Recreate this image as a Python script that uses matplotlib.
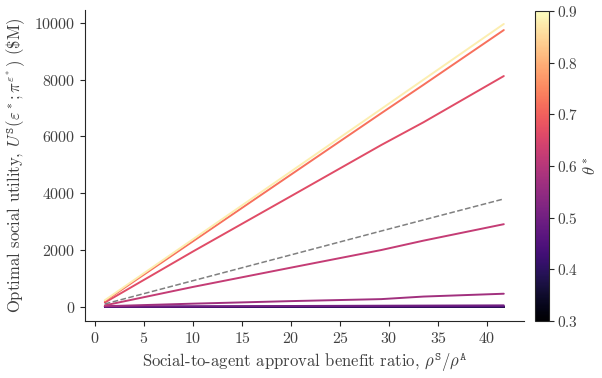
import numpy as np
import matplotlib
matplotlib.use("Agg")
import matplotlib.pyplot as plt
import seaborn as sns

sns.set_style("ticks")
plt.rcParams["font.family"] = "serif"
plt.rcParams["font.serif"] = ["cmr10"]
plt.rcParams["mathtext.fontset"] = "cm"
plt.rcParams["axes.formatter.use_mathtext"] = True
plt.rcParams["axes.unicode_minus"] = False

# benefit ratio rho^S / rho^A
ratio = [1, 10, 20, 29.2, 33.5, 41.7]

# optimal theta for each curve and the social utility ($M)
thetas = [0.3, 0.35, 0.4, 0.45, 0.5, 0.57, 0.62, 0.665, 0.72, 0.88]
utility = [
    [0, 0, 0, 0, 0, 0],
    [0, 0, 0, 0, 0, 0],
    [0, 1, 2, 3, 3, 4],
    [1, 4, 8, 12, 14, 18],
    [5, 15, 28, 38, 42, 50],
    [20, 110, 200, 270, 360, 460],
    [50, 700, 1380, 2000, 2330, 2910],
    [150, 1950, 3900, 5700, 6500, 8130],
    [200, 2310, 4660, 6820, 7820, 9750],
    [230, 2380, 4770, 6970, 8000, 9965],
]

# reference line (dashed)
ref_line = [100, 920, 1830, 2670, 3060, 3800]

cmap = plt.get_cmap("magma")
norm = matplotlib.colors.Normalize(vmin=0.3, vmax=0.9)

fig = plt.figure(figsize=(6.02, 3.78), dpi=100)
ax = fig.add_axes([0.141, 0.151, 0.729, 0.823])
cax = fig.add_axes([0.889, 0.151, 0.023, 0.82])

for th, vals in zip(thetas, utility):
    ax.plot(ratio, vals, color=cmap(norm(th)), lw=1.4)

ax.plot(ratio, ref_line, color="gray", ls="--", lw=1.1)

txt = "0.25"
ax.set_xlabel(r"Social-to-agent approval benefit ratio, $\rho^{\mathtt{S}}/\rho^{\mathtt{A}}$",
              fontsize=12, color=txt)
ax.set_ylabel(r"Optimal social utility, $U^{\mathtt{S}}(\varepsilon^*;\pi^{\varepsilon^*})$ (\$M)",
              fontsize=12, color=txt)
ax.set_xticks([0, 5, 10, 15, 20, 25, 30, 35, 40])
ax.set_yticks([0, 2000, 4000, 6000, 8000, 10000])
ax.tick_params(labelsize=11.5, labelcolor=txt)
sns.despine(ax=ax)

sm = matplotlib.cm.ScalarMappable(norm=norm, cmap=cmap)
cb = fig.colorbar(sm, cax=cax)
cb.set_ticks([0.3, 0.4, 0.5, 0.6, 0.7, 0.8, 0.9])
cb.ax.tick_params(labelsize=11, labelcolor=txt, pad=2)
cb.set_label(r"$\theta^*$", fontsize=12, color=txt, labelpad=3)

fig.savefig("out.png", dpi=100)
